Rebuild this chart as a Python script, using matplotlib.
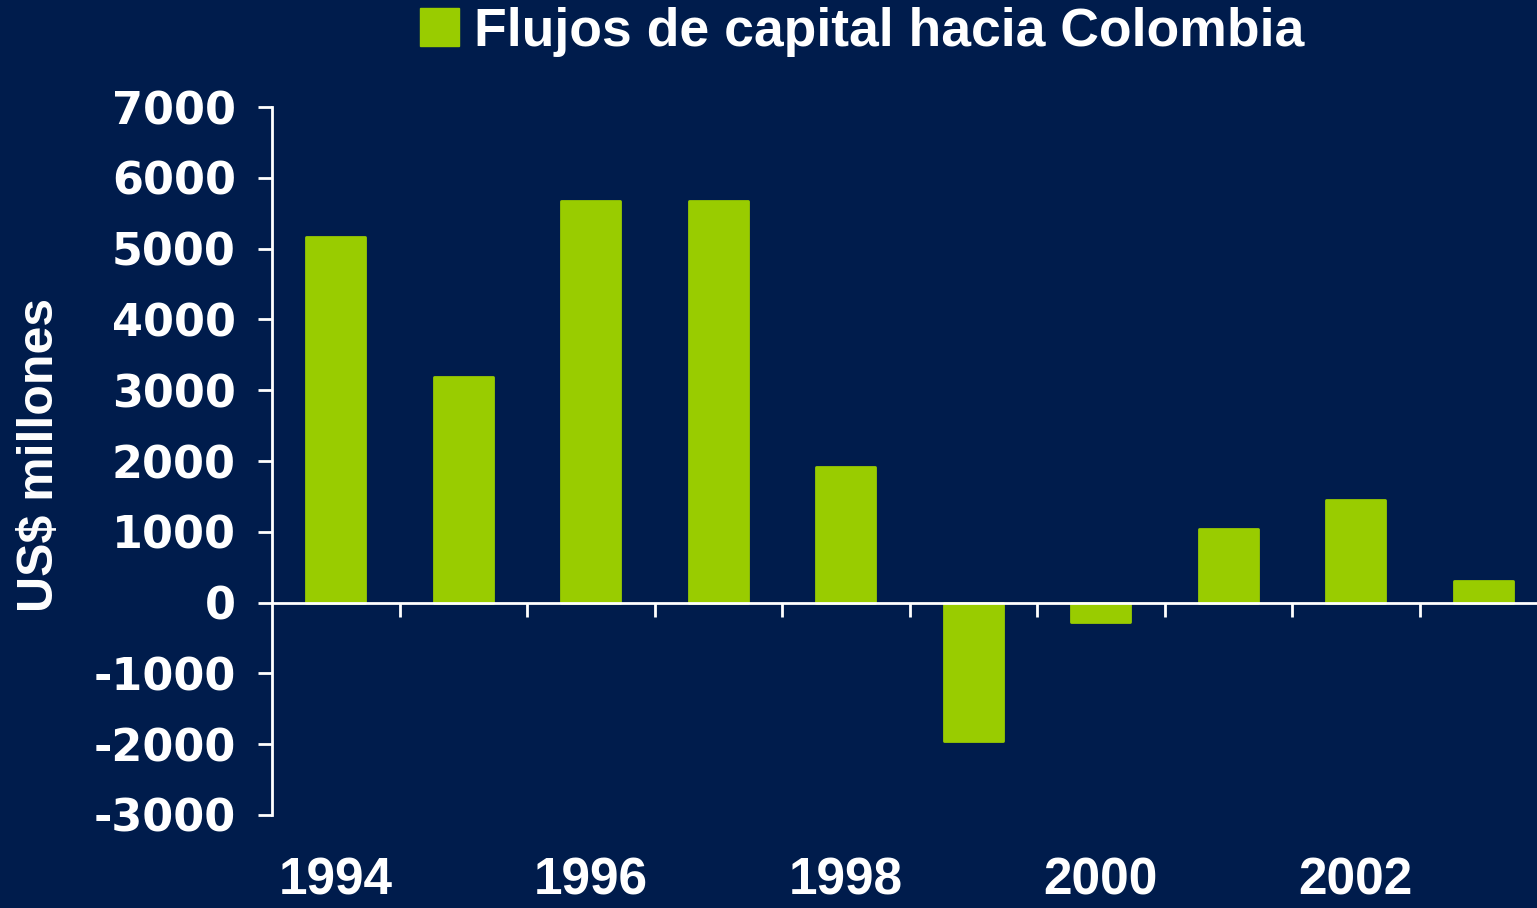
import numpy as np
import matplotlib
matplotlib.use('Agg')
import matplotlib.pyplot as plt
from matplotlib.patches import Patch
from matplotlib.ticker import FixedLocator, NullFormatter

# data
years = [1994, 1995, 1996, 1997, 1998, 1999, 2000, 2001, 2002, 2003]
flows = [5170, 3190, 5670, 5670, 1920, -1950, -270, 1040, 1450, 310]
yticks = [-3000, -2000, -1000, 0, 1000, 2000, 3000, 4000, 5000, 6000, 7000]
legend_label = 'Flujos de capital hacia Colombia'
ylabel = 'US$ millones'

bg = '#001c4c'
green = '#99cc00'
white = 'white'

fig = plt.figure(figsize=(15.37, 9.08), dpi=100, facecolor=bg)
# axis spans x=272..1547 px, y=107..815 px
ax = fig.add_axes([272 / 1537, 1 - 815 / 908, 1275 / 1537, 708 / 908])
ax.set_facecolor(bg)

x = np.arange(len(years))
ax.bar(x, flows, width=0.46, color=green, edgecolor=green, linewidth=2,
       joinstyle='round', zorder=2)

ax.set_xlim(-0.5, len(years) - 0.5)
ax.set_ylim(-3000, 7000)

# spines
for s in ['top', 'right']:
    ax.spines[s].set_visible(False)
ax.spines['left'].set_color(white)
ax.spines['left'].set_linewidth(2)
ax.spines['bottom'].set_position(('data', 0))
ax.spines['bottom'].set_color(white)
ax.spines['bottom'].set_linewidth(2)
ax.spines['bottom'].set_zorder(3)

# y ticks
ax.set_yticks(yticks)
ax.set_yticklabels([str(v) for v in yticks])
ax.tick_params(axis='y', colors=white, length=10, width=2, pad=16,
               labelsize=32)
for lab in ax.get_yticklabels():
    lab.set_fontweight('bold')
    lab.set_family('DejaVu Sans')

# x ticks: boundary marks at zero line, labels at the bottom
ax.xaxis.set_minor_locator(FixedLocator(np.arange(0.5, len(years) - 0.5, 1)))
ax.xaxis.set_minor_formatter(NullFormatter())
ax.tick_params(axis='x', which='minor', colors=white, length=10, width=2,
               direction='out')
ax.set_xticks(x[::2])
ax.set_xticklabels([str(y) for y in years[::2]])
ax.tick_params(axis='x', which='major', length=0, pad=183, colors=white,
               labelsize=37)
for lab in ax.get_xticklabels():
    lab.set_fontweight('bold')
    lab.set_family('Liberation Sans')

# y label
fig.text(40 / 1537, 1 - 455 / 908, ylabel, rotation=90, color=white,
         fontsize=36, fontweight='bold', family='Liberation Sans',
         ha='center', va='center')

# legend
handle = Patch(facecolor=green, edgecolor=green)
leg = fig.legend(handles=[handle], labels=[legend_label], loc='center',
                 bbox_to_anchor=(862 / 1537, 1 - 32 / 908), frameon=False,
                 handlelength=0.72, handleheight=0.72, handletextpad=0.28,
                 borderpad=0, prop={'family': 'Liberation Sans',
                                    'weight': 'bold', 'size': 38.5})
for t in leg.get_texts():
    t.set_color(white)

fig.savefig('out.png', dpi=100, facecolor=bg)
